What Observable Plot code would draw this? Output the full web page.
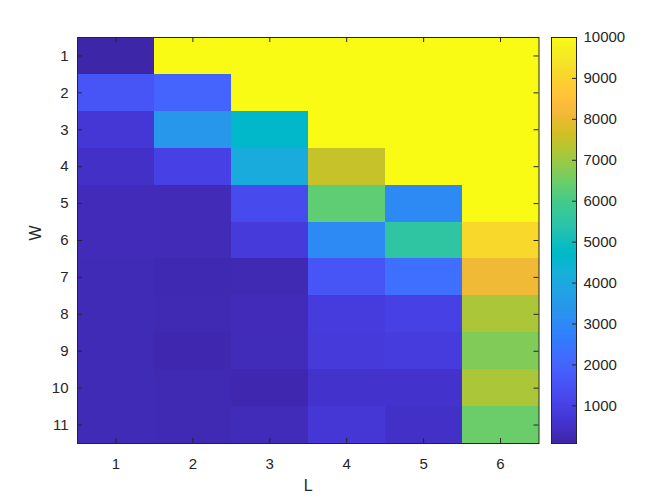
<!DOCTYPE html>
<html><head><meta charset="utf-8">
<script src="https://cdn.jsdelivr.net/npm/d3@7"></script>
<script src="https://cdn.jsdelivr.net/npm/@observablehq/plot@0.6"></script>
<style>
body{margin:0;background:#fff}
#wrap{position:relative;width:664px;height:498px}
#wrap svg{position:absolute;top:0;left:0}
</style></head><body><div id="wrap"></div><script>
// ---- data ----
const Ls = [1, 2, 3, 4, 5, 6];
const Ws = [1, 2, 3, 4, 5, 6, 7, 8, 9, 10, 11];
// rows: W = 1..11, columns: L = 1..6
const values = [
  [80,   10000, 10000, 10000, 10000, 10000],
  [1575, 1970,  10000, 10000, 10000, 10000],
  [710,  3390,  4650,  10000, 10000, 10000],
  [475,  1025,  4100,  7480,  10000, 10000],
  [285,  280,   1260,  6300,  3000,  10000],
  [285,  280,   790,   3000,  5515,  9135],
  [275,  215,   240,   1575,  2285,  8110],
  [275,  220,   285,   870,   1025,  7170],
  [260,  175,   315,   790,   870,   6695],
  [275,  220,   175,   550,   560,   7170],
  [275,  220,   315,   710,   475,   6460]
];
const colorTicks = [1000, 2000, 3000, 4000, 5000, 6000, 7000, 8000, 9000, 10000];
const xLabel = "L";
const yLabel = "W";

// ---- colormap (parula anchors) ----
const parula = [
[0.2422,0.1504,0.6603],[0.2504,0.1650,0.7076],[0.2578,0.1818,0.7511],[0.2647,0.1978,0.7952],
[0.2706,0.2147,0.8364],[0.2751,0.2342,0.8710],[0.2783,0.2559,0.8991],[0.2803,0.2782,0.9221],
[0.2813,0.3006,0.9414],[0.2810,0.3228,0.9579],[0.2795,0.3447,0.9717],[0.2760,0.3667,0.9829],
[0.2699,0.3892,0.9906],[0.2602,0.4123,0.9952],[0.2440,0.4358,0.9988],[0.2206,0.4603,0.9973],
[0.1963,0.4847,0.9892],[0.1834,0.5074,0.9798],[0.1786,0.5289,0.9682],[0.1764,0.5499,0.9520],
[0.1687,0.5703,0.9359],[0.1540,0.5902,0.9218],[0.1460,0.6091,0.9079],[0.1380,0.6276,0.8973],
[0.1248,0.6459,0.8883],[0.1113,0.6635,0.8763],[0.0952,0.6798,0.8598],[0.0689,0.6948,0.8394],
[0.0297,0.7082,0.8163],[0.0036,0.7203,0.7917],[0.0067,0.7312,0.7660],[0.0433,0.7411,0.7394],
[0.0964,0.7500,0.7120],[0.1408,0.7584,0.6842],[0.1717,0.7670,0.6554],[0.1938,0.7758,0.6251],
[0.2161,0.7843,0.5923],[0.2470,0.7918,0.5567],[0.2906,0.7973,0.5188],[0.3406,0.8008,0.4789],
[0.3909,0.8029,0.4354],[0.4456,0.8024,0.3909],[0.5044,0.7993,0.3480],[0.5616,0.7942,0.3045],
[0.6174,0.7876,0.2612],[0.6720,0.7793,0.2227],[0.7242,0.7698,0.1910],[0.7738,0.7598,0.1646],
[0.8203,0.7498,0.1535],[0.8634,0.7406,0.1596],[0.9035,0.7330,0.1774],[0.9393,0.7288,0.2100],
[0.9728,0.7298,0.2394],[0.9956,0.7434,0.2371],[0.9970,0.7659,0.2199],[0.9952,0.7893,0.2028],
[0.9892,0.8136,0.1885],[0.9786,0.8386,0.1766],[0.9676,0.8639,0.1643],[0.9610,0.8890,0.1537],
[0.9597,0.9135,0.1423],[0.9628,0.9373,0.1265],[0.9691,0.9606,0.1064],[0.9769,0.9839,0.0805]
];
const anchors = parula.map(c => d3.rgb(c[0]*255, c[1]*255, c[2]*255).formatHex());
const parulaInterp = d3.piecewise(d3.interpolateRgb, anchors);

// ---- build ----
const data = [];
Ws.forEach((w, i) => Ls.forEach((l, j) => data.push({W: w, L: l, v: values[i][j]})));
const vmin = d3.min(data, d => d.v), vmax = d3.max(data, d => d.v);
const nb = 256;
const bins = d3.range(nb).map(k => ({y1: vmin + k*(vmax-vmin)/nb, y2: vmin + (k+1)*(vmax-vmin)/nb, c: parulaInterp((k + 0.5) / nb)}));

const ink = "#262626";
const style = {fontFamily: "'Liberation Sans', Arial, sans-serif", fontSize: "15px", color: ink, background: "transparent"};

const W = 664, H = 498;
const mL = 77, mR = 125.5, mT = 37, mB = 55;
const fw = W - mL - mR, fh = H - mT - mB;
const tk = 5;

const main = Plot.plot({
  width: W, height: H,
  marginLeft: mL, marginRight: mR, marginTop: mT, marginBottom: mB,
  style,
  x: {domain: Ls, padding: 0, round: false, label: null},
  y: {domain: Ws, padding: 0, round: false, label: null},
  color: {type: "linear", domain: [vmin, vmax], interpolate: parulaInterp},
  marks: [
    Plot.cell(data, {x: "L", y: "W", fill: "v", shapeRendering: "crispEdges"}),
    Plot.tickX(Ls, {x: d => d, insetTop: fh - tk, stroke: ink}),
    Plot.tickX(Ls, {x: d => d, insetBottom: fh - tk, stroke: ink}),
    Plot.tickY(Ws, {y: d => d, insetRight: fw - tk, stroke: ink}),
    Plot.tickY(Ws, {y: d => d, insetLeft: fw - tk, stroke: ink}),
    Plot.frame({stroke: ink}),
    Plot.axisX({anchor: "bottom", tickSize: 0, tickPadding: 15, label: null}),
    Plot.axisY({anchor: "left", tickSize: 0, tickPadding: 9, label: null}),
    Plot.text([xLabel], {text: d => d, frameAnchor: "bottom", dy: 42, lineAnchor: "middle", fontSize: 16, fill: ink}),
    Plot.text([yLabel], {text: d => d, frameAnchor: "left", dx: -42, rotate: -90, lineAnchor: "middle", fontSize: 16, fill: ink})
  ]
});

const cbL = 551, cbR = 576;
const cb = Plot.plot({
  width: W, height: H,
  marginLeft: cbL, marginRight: W - cbR, marginTop: mT, marginBottom: mB,
  style,
  x: {domain: [0, 1], axis: null},
  y: {domain: [vmin, vmax], label: null},
  marks: [
    Plot.rect(bins, {x1: 0, x2: 1, y1: "y1", y2: "y2", fill: "c", shapeRendering: "crispEdges"}),
    Plot.ruleY(colorTicks, {y: d => d, x1: 1 - 4/(cbR - cbL), x2: 1, stroke: ink}),
    Plot.frame({stroke: ink}),
    Plot.axisY(colorTicks, {anchor: "right", tickSize: 0, tickPadding: 7, tickFormat: d => String(d), label: null})
  ]
});

const wrap = document.getElementById("wrap");
wrap.appendChild(main);
wrap.appendChild(cb);
</script></body></html>
